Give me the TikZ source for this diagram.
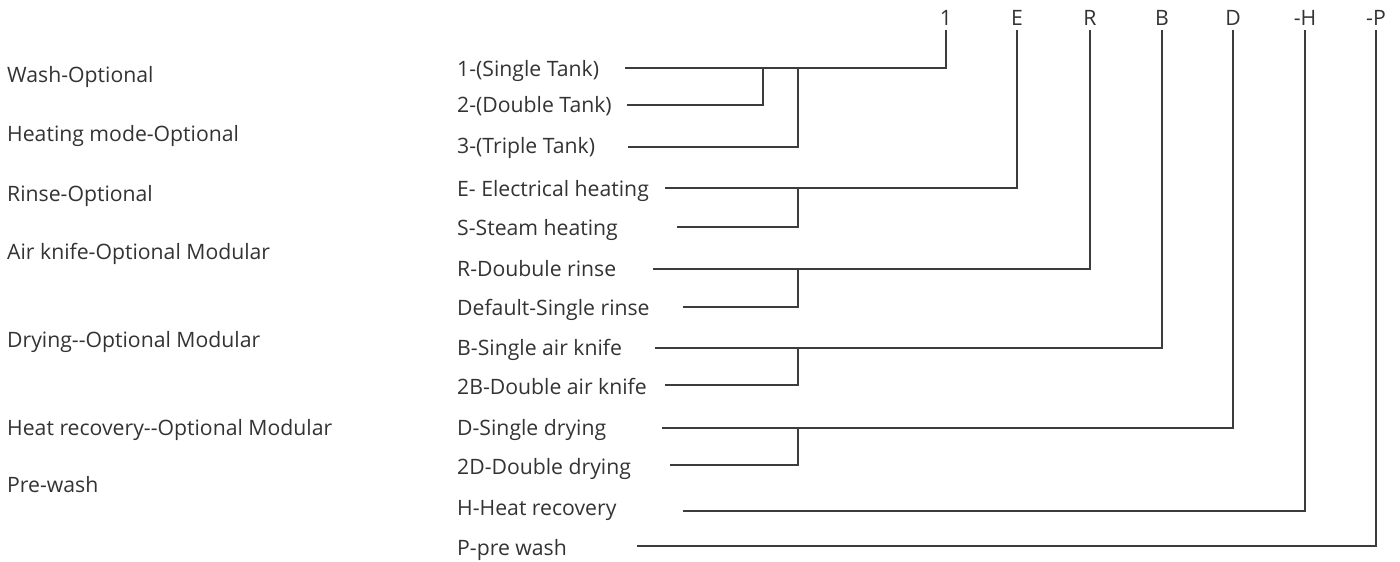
\documentclass[tikz,border=0pt]{standalone}
\usepackage{fontspec}
\setmainfont{Open Sans}[Ligatures=TeXOff]
\definecolor{txt}{HTML}{333333}
\definecolor{ln}{HTML}{3C3C3C}
\tikzset{
  lbl/.style={anchor=base west, inner sep=0pt, text=txt, font=\fontsize{21.2}{25}\selectfont},
  code/.style={anchor=base, inner sep=0pt, text=txt, font=\fontsize{21.2}{25}\selectfont},
  conn/.style={draw=ln, line width=1.3pt}
}
\begin{document}
\begin{tikzpicture}[x=1pt,y=-1pt]
\useasboundingbox (0,0) rectangle (1400,562);
% left column
\node[lbl] (l1) at (7,82) {Wash-Optional};
\node[lbl] (l2) at (7,141) {Heating mode-Optional};
\node[lbl] (l3) at (7,201) {Rinse-Optional};
\node[lbl] (l4) at (7,259) {Air knife-Optional Modular};
\node[lbl] (l5) at (7,347) {Drying--Optional Modular};
\node[lbl] (l6) at (7,435) {Heat recovery--Optional Modular};
\node[lbl] (l7) at (7,492) {Pre-wash};
% top codes
\node[code] (t1) at (946,25) {1};
\node[code] (t2) at (1017,25) {E};
\node[code] (t3) at (1090,25) {R};
\node[code] (t4) at (1162,25) {B};
\node[code] (t5) at (1233,25) {D};
\node[code] (t6) at (1305,25) {-H};
\node[code] (t7) at (1376,25) {-P};
% middle options
\node[lbl] (m1) at (457,76) {1-(Single Tank)};
\node[lbl] (m2) at (457,112) {2-(Double Tank)};
\node[lbl] (m3) at (457,153) {3-(Triple Tank)};
\node[lbl] (m4) at (457,196) {E- Electrical heating};
\node[lbl] (m5) at (457,235) {S-Steam heating};
\node[lbl] (m6) at (457,276) {R-Doubule rinse};
\node[lbl] (m7) at (457,315) {Default-Single rinse};
\node[lbl] (m8) at (457,355) {B-Single air knife};
\node[lbl] (m9) at (457,394) {2B-Double air knife};
\node[lbl] (m10) at (457,435) {D-Single drying};
\node[lbl] (m11) at (457,474) {2D-Double drying};
\node[lbl] (m12) at (457,515) {H-Heat recovery};
\node[lbl] (m13) at (457,555) {P-pre wash};
% line start points
\coordinate (s1) at (625,68);
\coordinate (s2) at (627,105);
\coordinate (s3) at (628,147);
\coordinate (s4) at (665,188);
\coordinate (s5) at (677,227);
\coordinate (s6) at (653,269);
\coordinate (s7) at (683,307);
\coordinate (s8) at (655,348);
\coordinate (s9) at (665,385);
\coordinate (s10) at (662,428);
\coordinate (s11) at (670,465);
\coordinate (s12) at (683,511);
\coordinate (s13) at (637,546);
% junctions
\coordinate (j2) at (763,68);
\coordinate (j3) at (798,68);
\coordinate (j5) at (798,188);
\coordinate (j7) at (798,269);
\coordinate (j9) at (798,348);
\coordinate (j11) at (798,428);
% main connectors
\draw[conn] (s1) -| ([yshift=-5pt]t1.base);
\draw[conn] (s4) -| ([yshift=-5pt]t2.base);
\draw[conn] (s6) -| ([yshift=-5pt]t3.base);
\draw[conn] (s8) -| ([yshift=-5pt]t4.base);
\draw[conn] (s10) -| ([yshift=-5pt]t5.base);
\draw[conn] (s12) -| ([yshift=-5pt]t6.base);
\draw[conn] (s13) -| ([yshift=-5pt]t7.base);
% branch connectors
\draw[conn] (s2) -| (j2);
\draw[conn] (s3) -| (j3);
\draw[conn] (s5) -| (j5);
\draw[conn] (s7) -| (j7);
\draw[conn] (s9) -| (j9);
\draw[conn] (s11) -| (j11);
\end{tikzpicture}
\end{document}
